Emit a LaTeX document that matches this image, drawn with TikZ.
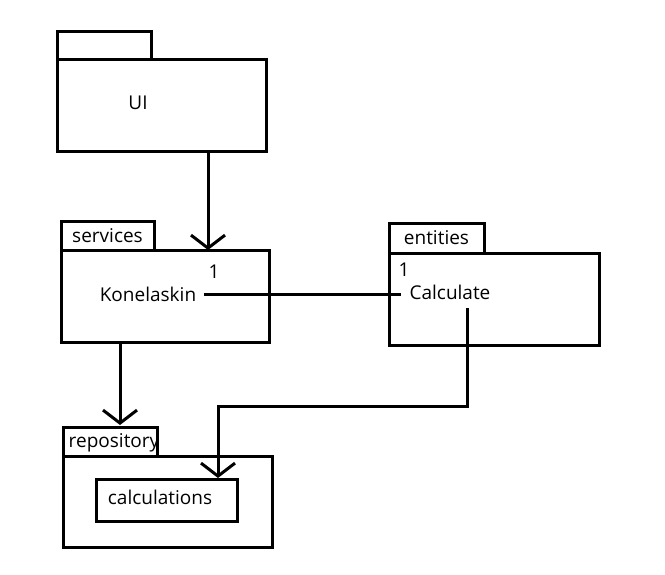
\documentclass[tikz,border=0pt]{standalone}
\usepackage{fontspec}
\setmainfont{Open Sans}
\usetikzlibrary{arrows.meta,calc}

\begin{document}
\begin{tikzpicture}[x=1pt,y=-1pt,line width=3pt,
  caixa/.style={draw,rectangle,inner sep=0pt},
  texto/.style={inner sep=0pt,font=\fontsize{19}{22}\selectfont},
  seta/.style={-{Straight Barb[length=13pt,width=34pt]}}] %define os estilos do diagrama

%Area total da figura (mesmas proporcoes da referencia)
\useasboundingbox (0,0) rectangle (665,574);

%Pacote UI: aba e corpo
%---------------------------------------------------
\node[caixa,minimum width=94pt,minimum height=28pt] (uiTab) at (104,45) {};
\node[caixa,minimum width=209pt,minimum height=92pt] (uiBody) at (161.5,105) {};
\node[texto] (ui) at (138,103) {UI};
%---------------------------------------------------

%Pacote services: aba, corpo e classe Konelaskin
%---------------------------------------------------
\node[caixa,minimum width=93pt,minimum height=29pt,font=\fontsize{19}{22}\selectfont] (svTab) at (107.5,235.5) {services};
\node[caixa,minimum width=208pt,minimum height=92pt] (svBody) at (165,296) {};
\node[texto] (um1) at (214,272) {1};
\node[texto,inner xsep=6pt] (kone) at (148,294) {Konelaskin};
%---------------------------------------------------

%Pacote entities: aba, corpo e classe Calculate
%---------------------------------------------------
\node[caixa,minimum width=95pt,minimum height=30pt,font=\fontsize{19}{22}\selectfont] (enTab) at (436.5,238) {entities};
\node[caixa,minimum width=210pt,minimum height=92pt] (enBody) at (494,299) {};
\node[texto] (um2) at (404,270) {1};
\node[texto,inner xsep=7pt] (calc) at (450,292) {Calculate};
%---------------------------------------------------

%Pacote repository: aba, corpo e caixa calculations
%---------------------------------------------------
\node[caixa,minimum width=94pt,minimum height=29pt] (repoTab) at (110,441.5) {};
\node[texto] (repo) at (114,443) {repository};
\node[caixa,minimum width=209pt,minimum height=91pt] (repoBody) at (167.5,501.5) {};
\node[caixa,minimum width=141pt,minimum height=42pt] (calcBox) at (166.5,500) {};
\node[texto] (calcs) at (160,497) {calculations};
%---------------------------------------------------

%Pontos auxiliares das ligacoes
\coordinate (svIn) at (208,250);
\coordinate (repoIn) at (120,425);
\coordinate (calcOut) at (467,308);
\coordinate (dobra) at (467,406);
\coordinate (calcIn) at (218,478);

%---------------------------------------------------
%Ligacoes entre os pacotes
%---------------------------------------------------
\draw[seta] (uiBody.south -| svIn) -- (svIn);
\draw[seta] (svBody.south -| repoIn) -- (repoIn);
\draw (kone.east) -- (kone.east -| calc.west);
\draw[seta] (calcOut) -- (dobra) -| (calcIn);

\end{tikzpicture}
\end{document}
